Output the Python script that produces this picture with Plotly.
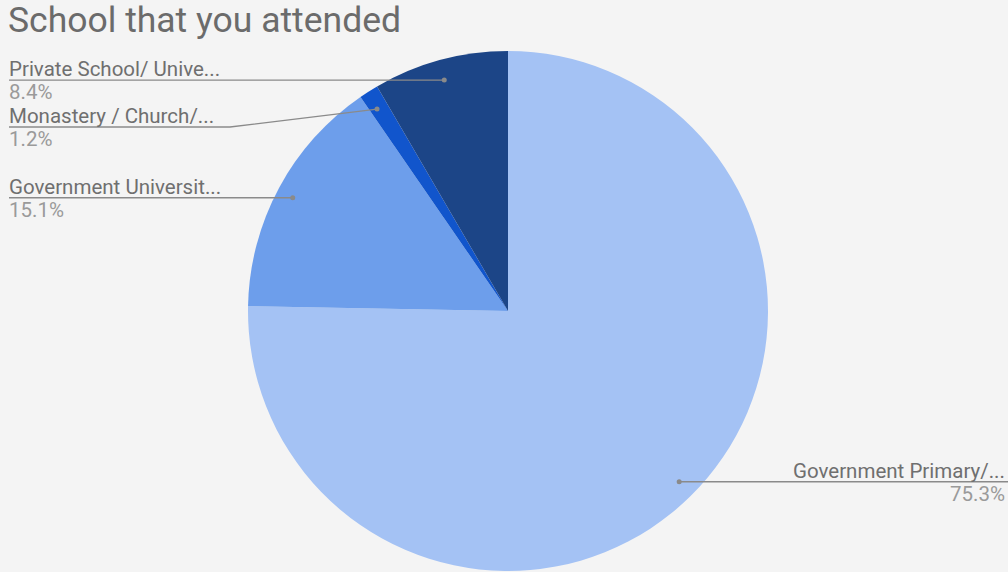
import math
import plotly.graph_objects as go

# Survey shares by school type (percent)
labels = ["Government Primary/...", "Government Universit...", "Monastery / Church/...", "Private School/ Unive..."]
values = [75.3, 15.1, 1.2, 8.4]
colors = ["#a4c2f4", "#6d9eeb", "#1155cc", "#1c4587"]

W, H = 1008, 572
CX, CY, R = 508, 311, 260  # pie centre and radius in pixels

fig = go.Figure(go.Pie(
    labels=labels,
    values=values,
    marker=dict(colors=colors, line=dict(width=0)),
    sort=False,
    direction="clockwise",
    rotation=0,
    textinfo="none",
    hoverinfo="label+percent",
    showlegend=False,
    domain=dict(x=[(CX - R) / W, (CX + R) / W],
                y=[1 - (CY + R) / H, 1 - (CY - R) / H]),
))

def px(x):
    return x / W

def py(y):
    return 1 - y / H

# label placement: side, optional elbow (x, y) for the leader line
placement = {
    0: dict(side="right", elbow=None),
    1: dict(side="left", elbow=None),
    2: dict(side="left", elbow=(230, 127)),
    3: dict(side="left", elbow=None),
}

shapes = []
annotations = []
total = sum(values)
cum = 0.0
for i, v in enumerate(values):
    mid = (cum + v / 2) / total * 2 * math.pi
    cum += v
    dx = CX + 0.94 * R * math.sin(mid)
    dy = CY - 0.92 * R * math.cos(mid)
    side = placement[i]["side"]
    elbow = placement[i]["elbow"]
    edge_x = 1008 if side == "right" else 9
    pts = [(dx, dy)]
    if elbow:
        pts.append(elbow)
        ly = elbow[1]
    else:
        ly = dy
    pts.append((edge_x, ly))
    path = "M " + " L ".join(f"{px(x)},{py(y)}" for x, y in pts)
    shapes.append(dict(type="path", xref="paper", yref="paper", path=path,
                       line=dict(color="#8a8a8a", width=1.3)))
    shapes.append(dict(type="circle", xref="paper", yref="paper",
                       x0=px(dx - 2.5), x1=px(dx + 2.5), y0=py(dy + 2.5), y1=py(dy - 2.5),
                       fillcolor="#8a8a8a", line=dict(width=0)))
    anchor = "right" if side == "right" else "left"
    tx = edge_x - 1 if side == "right" else edge_x - 2
    annotations.append(dict(xref="paper", yref="paper", x=px(tx), y=py(ly + 3),
                            text=labels[i], showarrow=False, xanchor=anchor, yanchor="bottom",
                            font=dict(family="Roboto", size=20.5, color="#6f6f6f")))
    annotations.append(dict(xref="paper", yref="paper", x=px(tx), y=py(ly - 2),
                            text=f"{v:.1f}%", showarrow=False, xanchor=anchor, yanchor="top",
                            font=dict(family="Roboto", size=20.5, color="#9a9a9a")))

annotations.append(dict(xref="paper", yref="paper", x=px(6), y=py(-3), text="School that you attended",
                        showarrow=False, xanchor="left", yanchor="top",
                        font=dict(family="Roboto", size=35.5, color="#6b6b6b")))

fig.update_layout(
    width=W, height=H,
    margin=dict(l=0, r=0, t=0, b=0),
    paper_bgcolor="#f4f4f4",
    plot_bgcolor="#f4f4f4",
    shapes=shapes,
    annotations=annotations,
)

fig.write_html("out.html")
